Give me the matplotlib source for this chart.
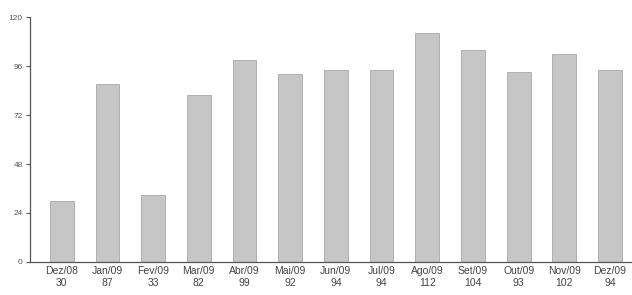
import numpy as np
import matplotlib.pyplot as plt

# Dados do gráfico
meses = ['Dez/08', 'Jan/09', 'Fev/09', 'Mar/09', 'Abr/09', 'Mai/09', 'Jun/09',
         'Jul/09', 'Ago/09', 'Set/09', 'Out/09', 'Nov/09', 'Dez/09']
valores = [30, 87, 33, 82, 99, 92, 94, 94, 112, 104, 93, 102, 94]
y_ticks = [0, 24, 48, 72, 96, 120]

plt.rcParams['font.family'] = ['Liberation Sans', 'DejaVu Sans']

fig = plt.figure(figsize=(6.32, 2.95), dpi=100)
ax = fig.add_axes([0.047, 0.112, 0.953, 0.830])

x = np.arange(len(meses))
ax.bar(x, valores, width=0.52, color='#c6c6c6', edgecolor='#a8a8a8', linewidth=0.6)

ax.set_xlim(-0.70, len(meses) - 0.52)
ax.set_ylim(0, 120)
ax.set_yticks(y_ticks)
ax.set_yticklabels([str(v) for v in y_ticks], fontsize=6, color='#555555')
ax.set_xticks(x)
ax.set_xticklabels([f'{m}\n{v}' for m, v in zip(meses, valores)],
                   fontsize=7.5, color='#444444', linespacing=1.2)
ax.tick_params(axis='x', length=0, pad=3)
ax.tick_params(axis='y', length=3, width=0.8, color='#555555', pad=2)

for s in ['top', 'right']:
    ax.spines[s].set_visible(False)
ax.spines['left'].set_color('#555555')
ax.spines['bottom'].set_color('#555555')
ax.spines['left'].set_linewidth(0.9)
ax.spines['bottom'].set_linewidth(0.9)

fig.savefig('out.png', dpi=100)
